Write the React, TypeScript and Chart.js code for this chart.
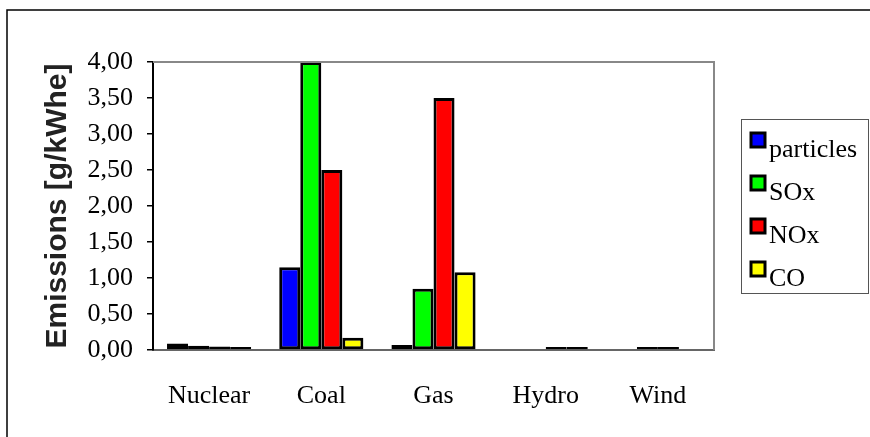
import React, { useEffect, useRef } from "react";
import { Chart, registerables } from "chart.js";

Chart.register(...registerables);

const categories = ["Nuclear", "Coal", "Gas", "Hydro", "Wind"];
const particles = [0.09, 1.15, 0.07, 0, 0];
const sox = [0.06, 4.0, 0.85, 0, 0.04];
const nox = [0.05, 2.5, 3.5, 0.04, 0.04];
const co = [0.04, 0.17, 1.08, 0.04, 0];
const seriesNames = ["particles", "SOx", "NOx", "CO"];
const seriesColors = ["#0000ff", "#00ff00", "#ff0000", "#ffff00"];
const yTicks = [0, 0.5, 1, 1.5, 2, 2.5, 3, 3.5, 4];

const serif = "'Liberation Serif', 'Times New Roman', serif";

const framePlugin = {
  id: "frame",
  afterDraw(chart: any) {
    const ctx = chart.ctx;
    const a = chart.chartArea;
    ctx.save();
    ctx.strokeStyle = "#000";
    ctx.lineWidth = 1.5;
    ctx.beginPath();
    ctx.moveTo(870, 10);
    ctx.lineTo(7, 10);
    ctx.lineTo(7, 437);
    ctx.stroke();
    ctx.strokeStyle = "#888";
    ctx.lineWidth = 2;
    ctx.beginPath();
    ctx.moveTo(a.left, a.top);
    ctx.lineTo(a.right, a.top);
    ctx.lineTo(a.right, a.bottom);
    ctx.stroke();
    const lx = 741, ly = 119, lw = 127, lh = 174;
    ctx.strokeStyle = "#555";
    ctx.lineWidth = 1;
    ctx.strokeRect(lx + 0.5, ly + 0.5, lw, lh);
    chart.data.datasets.forEach((ds: any, i: number) => {
      const y = ly + 14 + i * 43;
      ctx.fillStyle = ds.backgroundColor;
      ctx.strokeStyle = "#000";
      ctx.lineWidth = 3;
      ctx.beginPath();
      ctx.rect(751, y, 14, 14);
      ctx.fill();
      ctx.stroke();
      ctx.fillStyle = "#000";
      ctx.font = `26px ${serif}`;
      ctx.textBaseline = "alphabetic";
      ctx.textAlign = "left";
      ctx.fillText(ds.label, 769, y + 24);
    });
    ctx.restore();
  },
};

export default function App() {
  const ref = useRef<HTMLCanvasElement>(null);
  useEffect(() => {
    const data = [particles, sox, nox, co];
    const chart = new Chart(ref.current!, {
      type: "bar",
      data: {
        labels: categories,
        datasets: seriesNames.map((name, i) => ({
          label: name,
          data: data[i],
          backgroundColor: seriesColors[i],
          borderColor: "#000",
          borderWidth: 3,
          borderSkipped: false,
          categoryPercentage: 0.75,
          barPercentage: 1.0,
        })),
      },
      options: {
        responsive: false,
        animation: false,
        layout: { padding: { left: 0, top: 62, right: 156, bottom: 0 } },
        plugins: { legend: { display: false }, tooltip: { enabled: false } },
        scales: {
          x: {
            grid: { display: false },
            border: { display: true, color: "#666", width: 2 },
            ticks: {
              color: "#000",
              font: { family: serif, size: 26 },
              padding: 23,
              maxRotation: 0,
            },
            afterFit(scale: any) {
              scale.height = 87;
            },
          },
          y: {
            min: 0,
            max: 4,
            afterBuildTicks(scale: any) {
              scale.ticks = yTicks.map((v) => ({ value: v }));
            },
            grid: {
              drawOnChartArea: false,
              drawTicks: true,
              tickLength: 6,
              color: "#000",
              lineWidth: 1.5,
            },
            border: { display: true, color: "#000", width: 2 },
            ticks: {
              color: "#000",
              font: { family: serif, size: 26 },
              padding: 14,
              callback: (v: any) => Number(v).toFixed(2).replace(".", ","),
            },
            title: {
              display: true,
              text: "Emissions [g/kWhe]",
              color: "#222",
              font: { family: "'Liberation Sans', Arial, sans-serif", size: 30, weight: "bold" },
              padding: { top: 40, bottom: 0 },
            },
            afterFit(scale: any) {
              scale.width = 153;
            },
          },
        },
      },
      plugins: [framePlugin],
    });
    return () => chart.destroy();
  }, []);
  return (
    <div style={{ position: "fixed", left: 0, top: 0, width: 870, height: 437, background: "#fff" }}>
      <canvas ref={ref} width={870} height={437} />
    </div>
  );
}
